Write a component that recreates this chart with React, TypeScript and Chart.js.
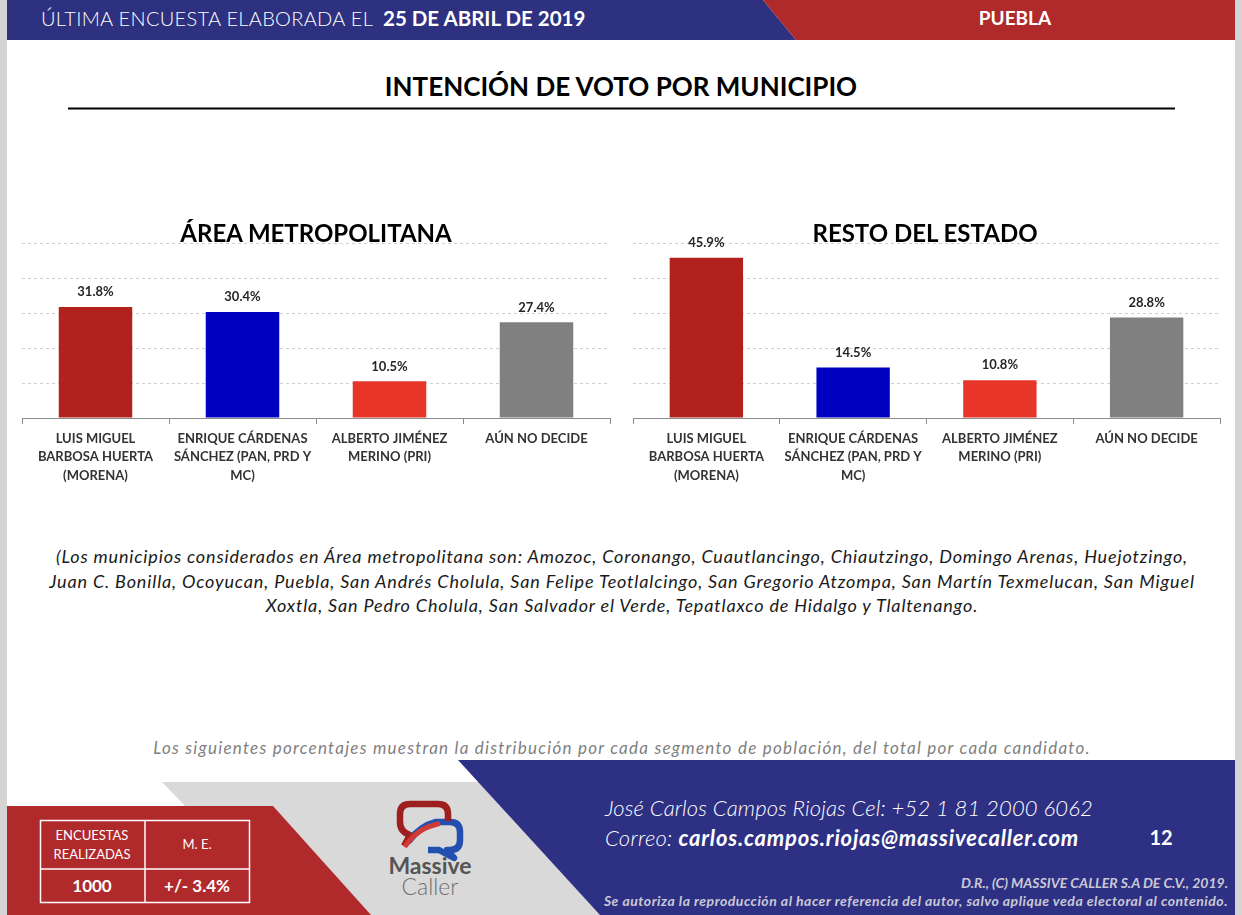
import React, { useEffect, useRef } from "react";
import { Chart, registerables } from "chart.js";
Chart.register(...registerables);

const FONT = "Lato, 'Open Sans', sans-serif";

const categories: string[][] = [
  ["LUIS MIGUEL", "BARBOSA HUERTA", "(MORENA)"],
  ["ENRIQUE CÁRDENAS", "SÁNCHEZ (PAN, PRD Y", "MC)"],
  ["ALBERTO JIMÉNEZ", "MERINO (PRI)"],
  ["AÚN NO DECIDE"],
];
const metroValues = [31.8, 30.4, 10.5, 27.4];
const restoValues = [45.9, 14.5, 10.8, 28.8];
const barColors = ["#b0221b", "#0000c0", "#e8352a", "#808080"];
const yMin = 0;
const yMax = 50;
const yStep = 10;

const municipiosLines = [
  "(Los municipios considerados en Área metropolitana son: Amozoc, Coronango, Cuautlancingo, Chiautzingo, Domingo Arenas, Huejotzingo,",
  "Juan C. Bonilla, Ocoyucan, Puebla, San Andrés Cholula, San Felipe Teotlalcingo, San Gregorio Atzompa, San Martín Texmelucan, San Miguel",
  "Xoxtla, San Pedro Cholula, San Salvador el Verde, Tepatlaxco de Hidalgo y Tlaltenango.",
];

const valueLabels = {
  id: "valueLabels",
  afterDatasetsDraw(chart: any) {
    const ctx = chart.ctx;
    const meta = chart.getDatasetMeta(0);
    const data = chart.data.datasets[0].data as number[];
    ctx.save();
    ctx.font = `bold 13px ${FONT}`;
    ctx.fillStyle = "#262626";
    ctx.textAlign = "center";
    ctx.textBaseline = "middle";
    meta.data.forEach((el: any, i: number) => {
      ctx.fillText(data[i].toFixed(1) + "%", el.x, el.y - 15);
    });
    ctx.restore();
  },
};

function BarPanel(props: { values: number[]; left: number; width: number; padL: number; padR: number }) {
  const ref = useRef<HTMLCanvasElement>(null);
  useEffect(() => {
    if (!ref.current) return;
    const chart = new Chart(ref.current, {
      type: "bar",
      data: {
        labels: categories,
        datasets: [
          {
            data: props.values,
            backgroundColor: barColors,
            barPercentage: 0.5,
            categoryPercentage: 1.0,
          },
        ],
      },
      options: {
        animation: false,
        responsive: false,
        devicePixelRatio: 1,
        layout: { padding: { left: props.padL, right: props.padR, top: 13.5, bottom: 0 } },
        plugins: {
          legend: { display: false },
          tooltip: { enabled: false },
          title: { display: false },
        },
        scales: {
          x: {
            grid: {
              display: true,
              drawOnChartArea: false,
              drawTicks: true,
              tickLength: 6,
              color: "#8c8c8c",
              offset: true,
            },
            border: { display: true, color: "#8c8c8c", width: 1 },
            ticks: {
              color: "#333333",
              font: { family: FONT, size: 13, weight: "bold", lineHeight: 1.45 },
              padding: 5,
              maxRotation: 0,
              autoSkip: false,
            },
            afterFit: (s: any) => {
              s.height = 82;
            },
          },
          y: {
            min: yMin,
            max: yMax,
            ticks: { display: false, stepSize: yStep },
            grid: { color: "#cfcfcf", drawTicks: false, lineWidth: 1 },
            border: { display: false, dash: [3, 3] },
            afterFit: (s: any) => {
              s.width = 0;
            },
          },
        },
      } as any,
      plugins: [valueLabels],
    });
    return () => chart.destroy();
  }, []);
  return (
    <canvas
      ref={ref}
      width={props.width}
      height={270}
      style={{ position: "absolute", left: props.left, top: 230, width: props.width, height: 270 }}
    />
  );
}

function T(props: {
  x: number;
  y: number;
  w: number;
  size: number;
  children: any;
  align?: "left" | "center" | "right";
  weight?: number | string;
  italic?: boolean;
  color?: string;
  lh?: number;
  ls?: number;
}) {
  const lh = props.lh || props.size * 1.3;
  const align = props.align || "center";
  let left = props.x;
  if (align === "center") left = props.x - props.w / 2;
  if (align === "right") left = props.x - props.w;
  return (
    <div
      style={{
        position: "absolute",
        left,
        top: props.y - lh / 2,
        width: props.w,
        lineHeight: `${lh}px`,
        fontSize: props.size,
        fontFamily: FONT,
        fontWeight: props.weight || 400,
        fontStyle: props.italic ? "italic" : "normal",
        color: props.color || "#000",
        textAlign: align,
        whiteSpace: "pre",
        letterSpacing: props.ls ? `${props.ls}px` : undefined,
      }}
    >
      {props.children}
    </div>
  );
}

export default function App() {
  useEffect(() => {
    document.body.style.margin = "0";
  }, []);
  return (
    <div
      style={{
        position: "absolute",
        left: 0,
        top: 0,
        width: 1242,
        height: 915,
        background: "#ffffff",
        overflow: "hidden",
        fontFamily: FONT,
      }}
    >
      <svg width={1242} height={915} style={{ position: "absolute", left: 0, top: 0 }}>
        <rect x={0} y={0} width={7} height={915} fill="#d4d4d4" />
        <rect x={1235} y={0} width={7} height={915} fill="#d4d4d4" />
        <polygon points="7,0 763,0 796,40 7,40" fill="#2e3080" />
        <polygon points="763,0 1235,0 1235,40 796,40" fill="#b0292b" />
        <line x1={68} y1={108.5} x2={1175} y2={108.5} stroke="#000" strokeWidth={2} />
        <polygon points="162,782 480,782 620,915 290,915" fill="#d9d9d9" />
        <polygon points="458,760 1235,760 1235,915 600,915" fill="#2e3083" />
        <polygon points="7,806 273,806 371,915 7,915" fill="#b0292b" />
        <rect x={40.5} y={820.5} width={209} height={82} fill="none" stroke="#ffffff" strokeWidth={1.5} />
        <line x1={145} y1={820} x2={145} y2={903} stroke="#ffffff" strokeWidth={1.5} />
        <line x1={40} y1={869} x2={250} y2={869} stroke="#ffffff" strokeWidth={1.5} />
        <path
          d="M 408 842 Q 420 826 436 822 L 450 822 Q 460 822 460 832 L 460 840 Q 460 850 450 850 L 447 850 L 454 858 L 439 850 L 428 850"
          fill="none"
          stroke="#2350b0"
          strokeWidth={6.5}
          strokeLinejoin="round"
        />
        <path
          d="M 404 846 L 410 835 Q 400 832 400 822 L 400 814 Q 400 804 410 804 L 438 804 Q 448 804 448 814 L 448 821"
          fill="none"
          stroke="#9e1f20"
          strokeWidth={6.5}
          strokeLinejoin="round"
        />
        <path d="M 406 845 Q 418 828 438 824" fill="none" stroke="#d13a35" strokeWidth={5} strokeLinecap="round" />
      </svg>

      <T x={41} y={18} w={360} size={20} align="left" weight={300} color="#ffffff" ls={0.3}>
        ÚLTIMA ENCUESTA ELABORADA EL
      </T>
      <T x={383} y={18} w={260} size={20.5} align="left" weight={700} color="#ffffff">
        25 DE ABRIL DE 2019
      </T>
      <T x={1015} y={18} w={120} size={19} weight={700} color="#ffffff">
        PUEBLA
      </T>

      <T x={621} y={87} w={760} size={26} weight={700} color="#000">
        INTENCIÓN DE VOTO POR MUNICIPIO
      </T>

      <BarPanel values={metroValues} left={0} width={630} padL={22} padR={20} />
      <BarPanel values={restoValues} left={620} width={615} padL={13} padR={15} />

      <T x={316} y={233} w={400} size={24} weight={700} color="#000">
        ÁREA METROPOLITANA
      </T>
      <T x={925} y={233} w={400} size={24} weight={700} color="#000">
        RESTO DEL ESTADO
      </T>

      {municipiosLines.map((line, i) => (
        <T key={i} x={622} y={557 + i * 24.5} w={1230} size={18} italic color="#1a1a1a" ls={0.85}>
          {line}
        </T>
      ))}

      <T x={622} y={748} w={1150} size={17} italic color="#7f7f7f" ls={1.25}>
        Los siguientes porcentajes muestran la distribución por cada segmento de población, del total por cada candidato.
      </T>

      <T x={92} y={835} w={100} size={13} color="#ffffff">
        ENCUESTAS
      </T>
      <T x={92} y={854} w={100} size={13} color="#ffffff">
        REALIZADAS
      </T>
      <T x={197} y={844} w={100} size={13} color="#ffffff">
        M. E.
      </T>
      <T x={92} y={886} w={100} size={17} weight={700} color="#ffffff">
        1000
      </T>
      <T x={197} y={886} w={100} size={17} weight={700} color="#ffffff">
        +/- 3.4%
      </T>

      <T x={430} y={866} w={120} size={23} weight={700} color="#555555">
        Massive
      </T>
      <T x={430} y={887} w={120} size={23} weight={300} color="#6f6f6f">
        Caller
      </T>

      <T x={605} y={808} w={560} size={22} align="left" italic weight={300} color="#ffffff" ls={0.15}>
        José Carlos Campos Riojas Cel: +52 1 81 2000 6062
      </T>
      <T x={605} y={838} w={560} size={22} align="left" italic weight={300} color="#ffffff" ls={0.3}>
        Correo: <span style={{ fontWeight: 700, letterSpacing: "0.8px" }}>carlos.campos.riojas@massivecaller.com</span>
      </T>
      <T x={1161} y={837} w={60} size={20} weight={700} color="#ffffff">
        12
      </T>
      <T x={1228} y={883} w={600} size={14} align="right" italic weight={700} color="#c9c9d6">
        D.R., (C) MASSIVE CALLER S.A DE C.V., 2019.
      </T>
      <T x={1228} y={901} w={800} size={14} align="right" italic weight={700} color="#c9c9d6" ls={0.5}>
        Se autoriza la reproducción al hacer referencia del autor, salvo aplique veda electoral al contenido.
      </T>
    </div>
  );
}
